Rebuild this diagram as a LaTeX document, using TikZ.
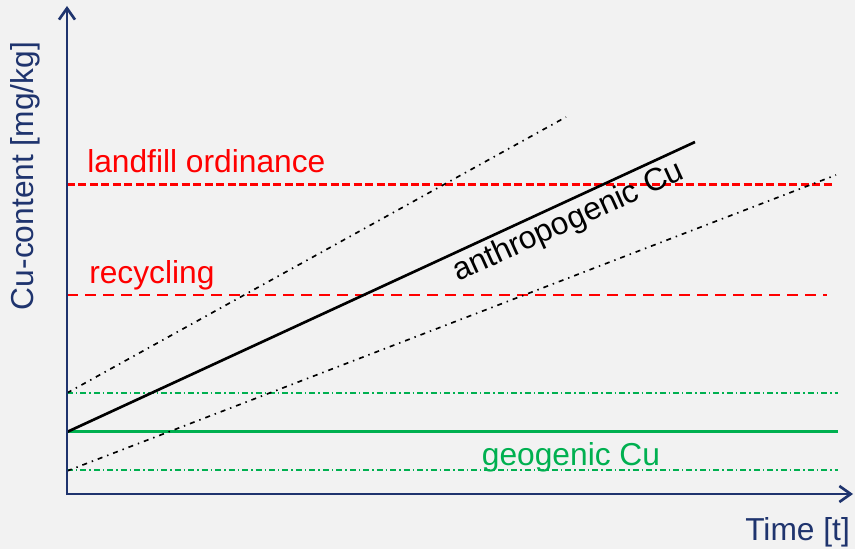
\documentclass[tikz,border=0pt]{standalone}
\usepackage{fontspec}
\setmainfont{Liberation Sans}
\usetikzlibrary{arrows.meta}

\definecolor{axisblue}{RGB}{31,52,110}
\definecolor{geogreen}{RGB}{0,176,80}
\definecolor{limitred}{RGB}{255,0,0}
\definecolor{slidegray}{RGB}{242,242,242}

\begin{document}
\begin{tikzpicture}[x=0.75pt,y=0.75pt,yscale=-1,
  axis/.style={draw=axisblue,line width=2pt,-{Straight Barb[length=8.5pt,width=12pt]}},
  txt/.style={inner sep=0pt,font=\fontsize{23.8}{28}\selectfont},
  spread/.style={draw=black,line width=1.25pt,dash pattern=on 3.75pt off 3.75pt on 1.1pt off 3.75pt},
  geoband/.style={draw=geogreen,line width=1.6pt,dash pattern=on 4.5pt off 2.25pt on 1.1pt off 2.25pt}
]
%set diagram to the size of the slide
\fill[slidegray] (0,0) rectangle (855,549);

%Straight Lines: limits
\draw[limitred,line width=2.2pt,dash pattern=on 6pt off 2.6pt] (67,184.5) -- (833,184.5);
\draw[limitred,line width=2.2pt,dash pattern=on 8.25pt off 5.25pt] (67,295) -- (827,295);

%Straight Lines: geogenic band
\draw[geoband] (67,393) -- (838,393);
\draw[geoband] (67,470) -- (838,470);
\draw[geogreen,line width=2.2pt] (67,431.5) -- (838,431.5);

%Straight Lines: anthropogenic fan
\draw[spread] (67,393) -- (566,117);
\draw[spread] (67,471) -- (836,175);
\draw[line width=2pt] (67,432) -- (695,142);

%Axes
\draw[axis] (67,495) -- (67,6);
\draw[axis] (66,494) -- (853,494);

% Text Node
\node (landfill) [txt,anchor=base west,text=limitred] at (87,172) {landfill ordinance};
% Text Node
\node (recycling) [txt,anchor=base west,text=limitred] at (89,283) {recycling};
% Text Node
\node (geogenic) [txt,anchor=base,text=geogreen] at (571,465) {geogenic Cu};
% Text Node
\node (anthro) [txt,anchor=base,rotate=24.5] at (572,230) {anthropogenic Cu};
% Text Node
\node (time) [txt,anchor=base west,text=axisblue] at (745,540) {Time [t]};
% Text Node
\node (content) [txt,anchor=base,rotate=90,text=axisblue] at (33,176) {Cu-content [mg/kg]};

\end{tikzpicture}
\end{document}
